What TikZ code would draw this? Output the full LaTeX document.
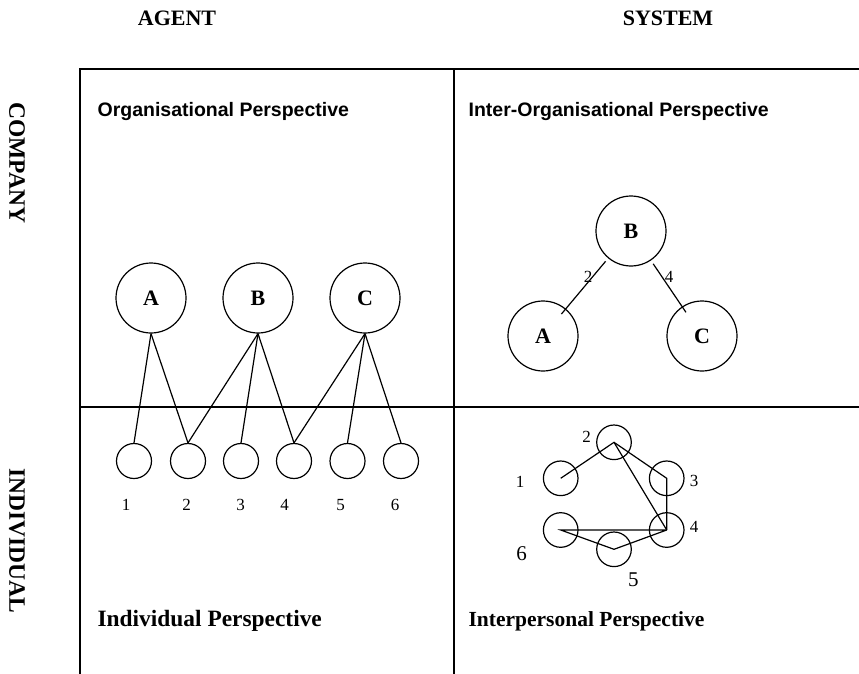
\documentclass[tikz,border=0pt]{standalone}
\usepackage{fontspec}
\setmainfont{Liberation Serif}
\setsansfont{Liberation Sans}

\tikzset{
  bigcirc/.style={draw,circle,minimum size=70pt,inner sep=0pt,font=\fontsize{22}{24}\selectfont\bfseries},
  smallcirc/.style={draw,circle,minimum size=35pt,inner sep=0pt},
  numlbl/.style={font=\fontsize{17}{19}\selectfont},
  headlbl/.style={font=\fontsize{22}{24}\selectfont\bfseries},
  quadttl/.style={anchor=west,inner sep=0pt},
}

\begin{document}
\begin{tikzpicture}[x=1pt,y=-1pt,line width=1.2pt]
  \useasboundingbox (0,0) rectangle (859,674);

  % Axis headings
  \node[headlbl] (agent) at (177,18) {AGENT};
  \node[headlbl] (system) at (668,18) {SYSTEM};
  \node[headlbl,font=\fontsize{23.5}{25}\selectfont\bfseries,rotate=-90] (company) at (17,163) {COMPANY};
  \node[headlbl,font=\fontsize{23.5}{25}\selectfont\bfseries,rotate=-90] (individual) at (17,541) {INDIVIDUAL};

  % Quadrant frame
  \draw[line width=1.4pt] (80,674) -- (80,69) -- (859,69);
  \draw[line width=1.4pt] (454,69) -- (454,674);
  \draw[line width=1.4pt] (80,407) -- (859,407);

  % Quadrant titles
  \node[quadttl,font=\sffamily\bfseries\fontsize{19.5}{21}\selectfont] (orgttl) at (97,112) {Organisational Perspective};
  \node[quadttl,font=\sffamily\bfseries\fontsize{19.5}{21}\selectfont] (interorgttl) at (468,112) {Inter-Organisational Perspective};
  \node[quadttl,font=\fontsize{23.4}{25}\selectfont\bfseries] (indttl) at (97,621) {Individual Perspective};
  \node[quadttl,font=\fontsize{21.5}{23}\selectfont\bfseries] (interpttl) at (468,621) {Interpersonal Perspective};

  % Companies and their members
  \node[bigcirc] (A) at (151,298) {A};
  \node[bigcirc] (B) at (258,298) {B};
  \node[bigcirc] (C) at (365,298) {C};

  \node[smallcirc] (s1) at (134,461) {};
  \node[smallcirc] (s2) at (188,461) {};
  \node[smallcirc] (s3) at (241,461) {};
  \node[smallcirc] (s4) at (294,461) {};
  \node[smallcirc] (s5) at (347.5,461) {};
  \node[smallcirc] (s6) at (401,461) {};

  \node[numlbl] (n1) at (126,505) {1};
  \node[numlbl] (n2) at (186.5,505) {2};
  \node[numlbl] (n3) at (240.5,505) {3};
  \node[numlbl] (n4) at (284.5,505) {4};
  \node[numlbl] (n5) at (340.5,505) {5};
  \node[numlbl] (n6) at (395,505) {6};

  \draw (A.south) -- (s1.north);
  \draw (A.south) -- (s2.north);
  \draw (B.south) -- (s2.north);
  \draw (B.south) -- (s3.north);
  \draw (B.south) -- (s4.north);
  \draw (C.south) -- (s4.north);
  \draw (C.south) -- (s5.north);
  \draw (C.south) -- (s6.north);

  % Links between companies
  \node[bigcirc] (B2) at (631,231) {B};
  \node[bigcirc] (A2) at (543,336) {A};
  \node[bigcirc] (C2) at (702,336) {C};
  \node[numlbl] (l2) at (588,277) {2};
  \node[numlbl] (l4) at (669,277) {4};

  \draw[shorten <=4pt,shorten >=-7pt] (B2) -- (A2);
  \draw[shorten <=4pt,shorten >=-7pt] (B2) -- (C2);

  % Personal network
  \node[smallcirc,minimum size=34.6pt] (p1) at (560.7,478.3) {};
  \node[smallcirc,minimum size=34.6pt] (p2) at (614,442.3) {};
  \node[smallcirc,minimum size=34.6pt] (p3) at (666.7,478.3) {};
  \node[smallcirc,minimum size=34.6pt] (p4) at (666.7,530) {};
  \node[smallcirc,minimum size=34.6pt] (p5) at (614,549.3) {};
  \node[smallcirc,minimum size=34.6pt] (p6) at (560.7,530) {};

  \node[numlbl] (m1) at (520,481.7) {1};
  \node[numlbl] (m2) at (586.7,436.7) {2};
  \node[numlbl] (m3) at (694,481) {3};
  \node[numlbl] (m4) at (694,526.7) {4};
  \node[font=\fontsize{21}{23}\selectfont] (m6) at (521.7,553.3) {6};
  \node[font=\fontsize{21}{23}\selectfont] (m5) at (633.3,580) {5};

  \draw (p1.center) -- (p2.center) -- (p3.center) -- (p4.center);
  \draw (p2.center) -- (p4.center);
  \draw (p4.center) -- (p6.center) -- (p5.center) -- (p4.center);
\end{tikzpicture}
\end{document}
